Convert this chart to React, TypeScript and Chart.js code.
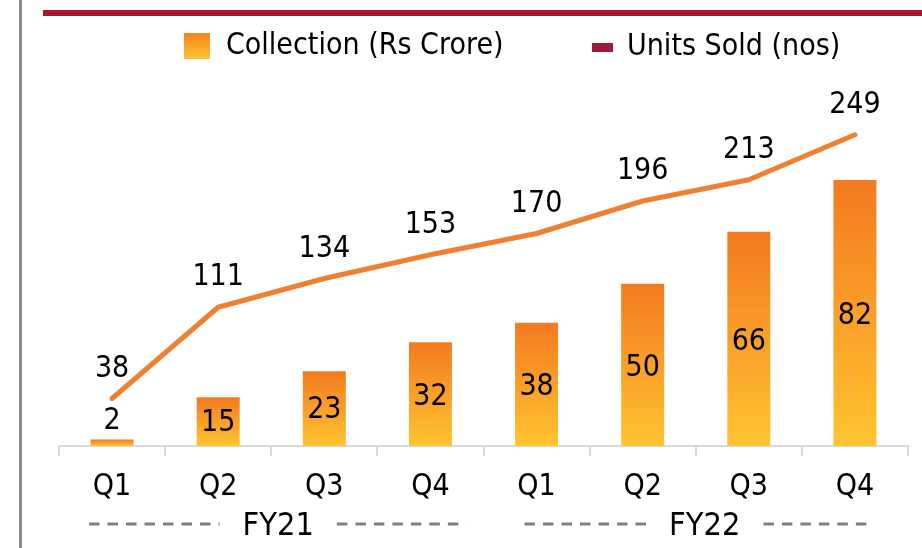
import React, { useEffect, useRef } from 'react';
import { Chart, registerables } from 'chart.js';

Chart.register(...registerables);

const categories = ['Q1', 'Q2', 'Q3', 'Q4', 'Q1', 'Q2', 'Q3', 'Q4'];
const fiscalYears = ['FY21', 'FY22'];
const quartersPerYear = 4;
const collection = [2, 15, 23, 32, 38, 50, 66, 82];
const unitsSold = [38, 111, 134, 153, 170, 196, 213, 249];
const legendLabels = ['Collection (Rs Crore)', 'Units Sold (nos)'];

const FONT = '"DejaVu Sans", Verdana, sans-serif';
const STRETCH = 1.1;

function tallText(ctx: CanvasRenderingContext2D, text: string, x: number, baseline: number) {
  ctx.save();
  ctx.translate(x, baseline);
  ctx.scale(1, STRETCH);
  ctx.fillText(text, 0, 0);
  ctx.restore();
}

const decorPlugin = {
  id: 'decor',
  beforeDraw(chart: any) {
    const ctx = chart.ctx;
    ctx.save();
    ctx.fillStyle = '#ffffff';
    ctx.fillRect(0, 0, chart.width, chart.height);
    ctx.fillStyle = '#8c8c8c';
    ctx.fillRect(19, 0, 3, chart.height);
    ctx.fillStyle = '#a5192e';
    ctx.fillRect(43, 10, chart.width - 43, 6);
    // legend
    const g = ctx.createLinearGradient(0, 33, 0, 59);
    g.addColorStop(0, '#F3841F');
    g.addColorStop(1, '#FFC433');
    ctx.fillStyle = g;
    ctx.fillRect(184, 33, 26, 26);
    ctx.fillStyle = '#9E1B3F';
    ctx.fillRect(592, 43, 21, 9);
    ctx.fillStyle = '#000';
    ctx.font = `27px ${FONT}`;
    ctx.textBaseline = 'alphabetic';
    ctx.textAlign = 'left';
    tallText(ctx, legendLabels[0], 226, 54);
    tallText(ctx, legendLabels[1], 627, 55);
    ctx.restore();
  },
  afterDatasetsDraw(chart: any) {
    const ctx = chart.ctx;
    ctx.save();
    ctx.fillStyle = '#000';
    ctx.font = `27px ${FONT}`;
    ctx.textAlign = 'center';
    ctx.textBaseline = 'alphabetic';
    const barMeta = chart.getDatasetMeta(0);
    barMeta.data.forEach((el: any, i: number) => {
      const h = el.base - el.y;
      let cy;
      if (h >= 30) cy = (el.y + el.base) / 2 - (h < 80 ? 2 : 0);
      else cy = el.y - 22;
      tallText(ctx, String(collection[i]), el.x, cy + 11);
    });
    const lineMeta = chart.getDatasetMeta(1);
    lineMeta.data.forEach((el: any, i: number) => {
      tallText(ctx, String(unitsSold[i]), el.x, el.y - 33 + 11);
    });
    ctx.restore();
  },
  afterDraw(chart: any) {
    const ctx = chart.ctx;
    const area = chart.chartArea;
    const xs = chart.scales.x;
    const w = (area.right - area.left) / categories.length;
    ctx.save();
    // quarter labels
    ctx.fillStyle = '#000';
    ctx.font = `27px ${FONT}`;
    ctx.textAlign = 'center';
    ctx.textBaseline = 'alphabetic';
    categories.forEach((c, i) => {
      tallText(ctx, c, xs.getPixelForValue(i), 495);
    });
    // fiscal year groups
    const leftInset = [30, 41];
    const rightInset = [17, 35];
    ctx.font = `29px ${FONT}`;
    fiscalYears.forEach((fy, i) => {
      const start = area.left + i * quartersPerYear * w;
      const end = start + quartersPerYear * w;
      const cx = (start + end) / 2 + 7 + i * 2;
      const tw = ctx.measureText(fy).width;
      ctx.fillStyle = '#000';
      tallText(ctx, fy, cx, 535);
      ctx.strokeStyle = '#808080';
      ctx.lineWidth = 3;
      ctx.setLineDash([10.5, 8]);
      ctx.beginPath();
      ctx.moveTo(start + leftInset[i], 524);
      ctx.lineTo(cx - tw / 2 - 23, 524);
      ctx.moveTo(cx + tw / 2 + 23, 524);
      ctx.lineTo(end - rightInset[i], 524);
      ctx.stroke();
    });
    ctx.restore();
  },
};

export default function App() {
  const ref = useRef<HTMLCanvasElement>(null);
  useEffect(() => {
    if (!ref.current) return;
    const chart = new Chart(ref.current, {
      type: 'bar',
      data: {
        labels: categories,
        datasets: [
          {
            type: 'bar',
            label: legendLabels[0],
            data: collection,
            yAxisID: 'y',
            order: 1,
            categoryPercentage: 1,
            barPercentage: 0.405,
            borderWidth: 0,
            backgroundColor: (c: any) => {
              const chart = c.chart;
              if (!chart.chartArea || c.type !== 'data') return '#F5A028';
              const ys = chart.scales.y;
              const top = ys.getPixelForValue(collection[c.dataIndex]);
              const bottom = ys.getPixelForValue(0);
              const g = chart.ctx.createLinearGradient(0, top, 0, bottom);
              g.addColorStop(0, '#F37A20');
              g.addColorStop(1, '#FFC431');
              return g;
            },
          } as any,
          {
            type: 'line',
            label: legendLabels[1],
            data: unitsSold,
            yAxisID: 'y2',
            order: 0,
            borderColor: '#EF7F31',
            borderWidth: 5,
            pointRadius: 0,
            tension: 0,
            borderCapStyle: 'round',
            borderJoinStyle: 'round',
          } as any,
        ],
      },
      options: {
        animation: false,
        responsive: false,
        devicePixelRatio: 1,
        layout: { padding: { left: 59, right: 14, top: 80, bottom: 0 } },
        plugins: { legend: { display: false }, tooltip: { enabled: false } },
        scales: {
          x: {
            afterFit: (s: any) => {
              s.height = 102;
            },
            grid: {
              display: true,
              drawOnChartArea: false,
              drawTicks: true,
              tickLength: 10,
              color: '#D9D9D9',
              lineWidth: 2,
              offset: true,
            },
            border: { display: true, color: '#D9D9D9', width: 2 },
            ticks: {
              display: false,
              color: '#000',
              font: { family: FONT, size: 27 },
              padding: 12,
              maxRotation: 0,
              autoSkip: false,
            },
          },
          y: { display: false, min: 0, max: 112.8 },
          y2: { display: false, min: 0, max: 292.8, position: 'right' },
        },
      },
      plugins: [decorPlugin],
    });
    return () => chart.destroy();
  }, []);
  return (
    <div style={{ position: 'absolute', left: 0, top: 0, width: 922, height: 548 }}>
      <canvas ref={ref} width={922} height={548} style={{ display: 'block' }} />
    </div>
  );
}
